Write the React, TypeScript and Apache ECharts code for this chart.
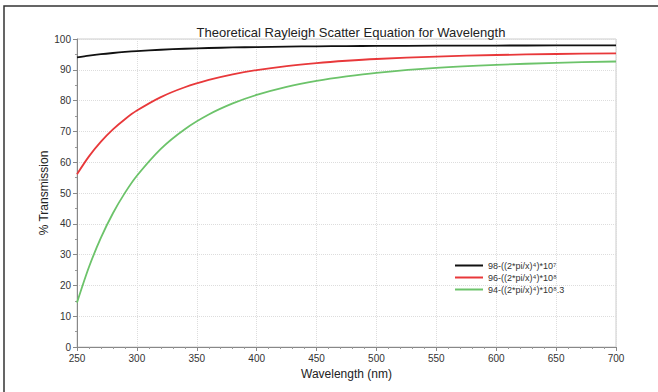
import React, { useEffect, useRef } from "react";
import * as echarts from "echarts";

const wavelengths = [250, 260, 270, 280, 290, 300, 320, 340, 360, 380, 400, 425, 450, 475, 500, 550, 600, 650, 700];
const blackVals = [94.01, 94.59, 95.07, 95.46, 95.8, 96.08, 96.51, 96.83, 97.07, 97.25, 97.39, 97.52, 97.62, 97.69, 97.75, 97.83, 97.88, 97.91, 97.94];
const redVals = [56.1, 61.9, 66.67, 70.64, 73.96, 76.76, 81.14, 84.34, 86.72, 88.53, 89.91, 91.22, 92.2, 92.94, 93.51, 94.3, 94.8, 95.13, 95.35];
const greenVals = [14.4, 25.96, 35.49, 43.42, 50.04, 55.61, 64.35, 70.73, 75.49, 79.09, 81.85, 84.47, 86.42, 87.89, 89.03, 90.6, 91.6, 92.26, 92.7];
const seriesNames = ["98-((2*pi/x)⁴)*10⁷", "96-((2*pi/x)⁴)*10⁸", "94-((2*pi/x)⁴)*10⁸.3"];
const seriesColors = ["#111111", "#e8383a", "#6cc36a"];
const titleText = "Theoretical Rayleigh Scatter Equation for Wavelength";
const xName = "Wavelength (nm)";
const yName = "% Transmission";

const FONT = "'Liberation Sans', Arial, Helvetica, sans-serif";

export default function App() {
  const ref = useRef<HTMLDivElement>(null);
  useEffect(() => {
    if (!ref.current) return;
    const chart = echarts.init(ref.current, undefined, { renderer: "svg" });
    const all = [blackVals, redVals, greenVals];
    chart.setOption({
      animation: false,
      backgroundColor: "#ffffff",
      title: {
        text: titleText,
        left: 346,
        textAlign: "center",
        top: 21,
        textStyle: { fontFamily: FONT, fontSize: 13, fontWeight: "normal", color: "#222" },
      },
      graphic: [
        {
          type: "polyline",
          shape: { points: [[4, 400], [4, 6], [660, 6]] },
          style: { stroke: "#333", lineWidth: 1.5, fill: "none" },
          silent: true,
        },
      ],
      legend: {
        orient: "vertical",
        left: 450,
        top: 256,
        itemWidth: 28,
        itemHeight: 2,
        itemGap: 3,
        icon: "rect",
        textStyle: { fontFamily: FONT, fontSize: 9, color: "#333" },
        data: seriesNames,
      },
      grid: {
        left: 77,
        right: 42,
        top: 39,
        bottom: 45,
        show: true,
        borderColor: "#cccccc",
        borderWidth: 1,
      },
      xAxis: {
        type: "value",
        min: 250,
        max: 700,
        interval: 50,
        name: xName,
        nameLocation: "middle",
        nameGap: 21,
        nameTextStyle: { fontFamily: FONT, fontSize: 12, color: "#222" },
        axisLine: { show: true, lineStyle: { color: "#888" } },
        axisTick: { show: true, length: 4, lineStyle: { color: "#888" } },
        minorTick: { show: true, splitNumber: 5, length: 2, lineStyle: { color: "#999" } },
        axisLabel: { fontFamily: FONT, fontSize: 10, color: "#333", margin: 6 },
        splitLine: { show: true, lineStyle: { color: "#dddddd", type: "dotted" } },
      },
      yAxis: {
        type: "value",
        min: 0,
        max: 100,
        interval: 10,
        name: yName,
        nameLocation: "middle",
        nameGap: 27,
        nameMoveOverlap: false,
        nameTextStyle: { fontFamily: FONT, fontSize: 12, color: "#222" },
        axisLine: { show: true, lineStyle: { color: "#888" } },
        axisTick: { show: true, length: 4, lineStyle: { color: "#888" } },
        minorTick: { show: true, splitNumber: 2, length: 2, lineStyle: { color: "#999" } },
        axisLabel: { fontFamily: FONT, fontSize: 10, color: "#333", margin: 6 },
        splitLine: { show: true, lineStyle: { color: "#dddddd", type: "dotted" } },
      },
      series: seriesNames.map((name, i) => ({
        name,
        type: "line",
        data: wavelengths.map((w, j) => [w, all[i][j]]),
        smooth: 0.3,
        showSymbol: false,
        symbol: "none",
        lineStyle: { color: seriesColors[i], width: 1.8 },
        itemStyle: { color: seriesColors[i] },
      })),
    });
    return () => chart.dispose();
  }, []);
  return (
    <div
      ref={ref}
      style={{ position: "fixed", left: 0, top: 0, width: 658, height: 392 }}
    />
  );
}
